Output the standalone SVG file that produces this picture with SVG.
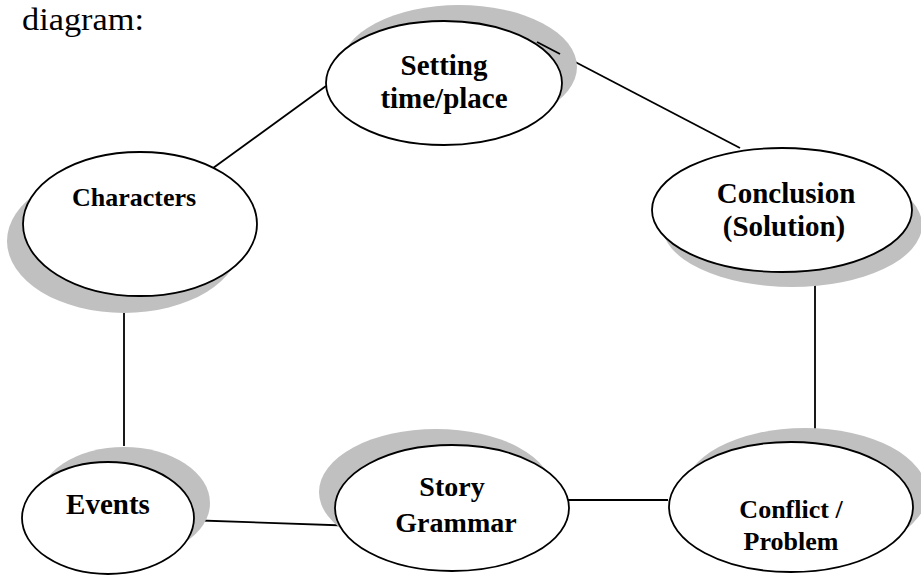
<svg xmlns="http://www.w3.org/2000/svg" width="921" height="575" viewBox="0 0 921 575">
<style>
.bg{fill:#ffffff}
.sh{fill:#c0c0c0;stroke:none}
.el{fill:#ffffff;stroke:#000000;stroke-width:1.8}
.lbl{font-family:"Liberation Serif","Times New Roman",serif;font-weight:bold;fill:#000000;text-anchor:middle}
.cap{font-family:"Liberation Serif","Times New Roman",serif;fill:#000000}
.ln{stroke:#000000;stroke-width:1.8;fill:none}
</style>
<rect class="bg" x="0" y="0" width="921" height="575"/>
<text class="cap" x="22" y="30" font-size="32" textLength="122" lengthAdjust="spacingAndGlyphs">diagram:</text>
<g id="connectors">
<line class="ln" x1="326" y1="86" x2="209" y2="171"/>
<line class="ln" x1="537" y1="42" x2="740" y2="148"/>
<line class="ln" x1="815" y1="275" x2="815" y2="430"/>
<line class="ln" x1="124" y1="297" x2="124" y2="446"/>
<line class="ln" x1="550" y1="500" x2="668" y2="500"/>
<line class="ln" x1="186" y1="520" x2="359" y2="526"/>
</g>
<g id="setting">
<ellipse class="sh" cx="459" cy="67" rx="118" ry="62"/>
<ellipse class="el" cx="444" cy="83" rx="118" ry="62"/>
<line class="ln" x1="537" y1="42" x2="560" y2="54"/>
<text class="lbl" x="444" y="75" font-size="29">Setting</text>
<text class="lbl" x="444" y="108" font-size="29">time/place</text>
</g>
<g id="characters">
<ellipse class="sh" cx="124" cy="241" rx="117" ry="72"/>
<ellipse class="el" cx="140" cy="224" rx="117" ry="72"/>
<text class="lbl" x="134" y="206" font-size="26">Characters</text>
</g>
<g id="conclusion">
<ellipse class="sh" cx="792" cy="225" rx="130" ry="62"/>
<ellipse class="el" cx="782" cy="210" rx="130" ry="62"/>
<text class="lbl" x="786" y="203" font-size="29">Conclusion</text>
<text class="lbl" x="784" y="236" font-size="29">(Solution)</text>
</g>
<g id="events">
<ellipse class="sh" cx="124" cy="503" rx="86" ry="56"/>
<ellipse class="el" cx="108" cy="518" rx="86" ry="56"/>
<text class="lbl" x="108" y="514" font-size="29">Events</text>
</g>
<g id="story-grammar">
<ellipse class="sh" cx="436" cy="492" rx="117" ry="63"/>
<ellipse class="el" cx="452" cy="508" rx="117" ry="63"/>
<text class="lbl" x="452" y="496" font-size="28">Story</text>
<text class="lbl" x="456" y="532" font-size="28">Grammar</text>
</g>
<g id="conflict">
<ellipse class="sh" cx="805" cy="493" rx="122" ry="65"/>
<ellipse class="el" cx="791" cy="507" rx="122" ry="65"/>
<text class="lbl" x="791" y="518" font-size="26">Conflict /</text>
<text class="lbl" x="791" y="550" font-size="26">Problem</text>
</g>
</svg>
